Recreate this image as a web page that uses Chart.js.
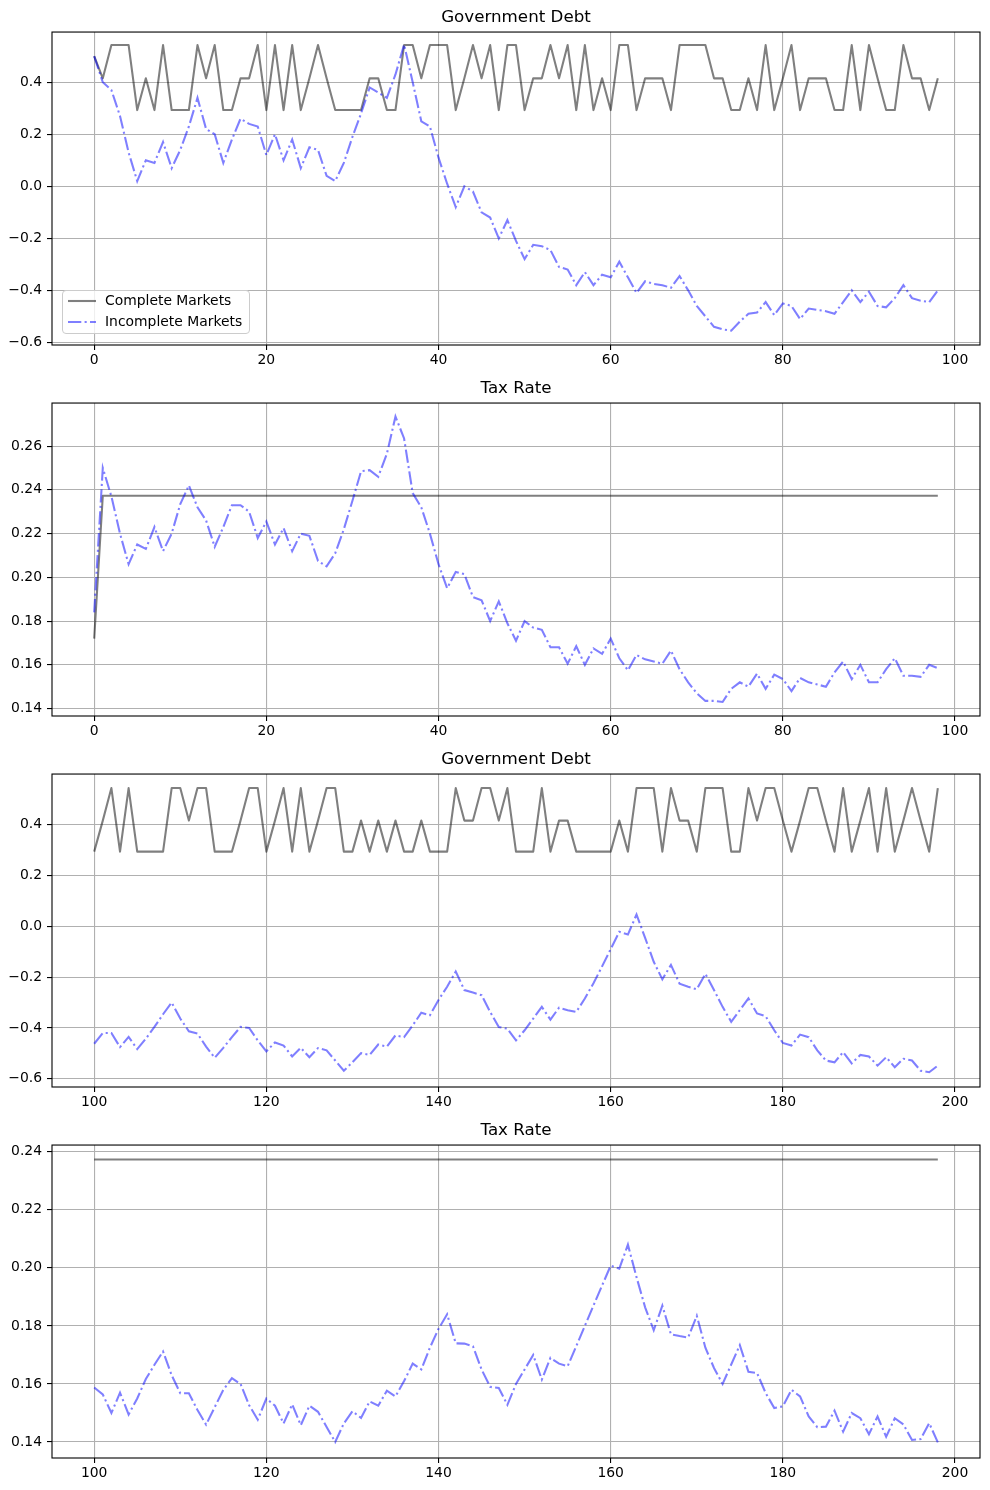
<!DOCTYPE html>
<html>
<head>
<meta charset="utf-8">
<script src="https://cdn.jsdelivr.net/npm/chart.js@4.4.0/dist/chart.umd.min.js"></script>
<style>
  body { margin: 0; background: #fff; font-family: "DejaVu Sans", sans-serif; }
  .panel { position: relative; width: 990px; height: 371px; }
  .legend {
    position: absolute; left: 62px; top: 290px; width: 186px; height: 42px;
    border: 1px solid #cccccc; border-radius: 4px; background: rgba(255,255,255,0.8);
    font-size: 13.9px; color: #000; z-index: 2;
  }
  .legend .row { position: absolute; left: 0; height: 20px; width: 100%; }
  .legend svg { position: absolute; left: 4px; top: 0; }
  .legend span { position: absolute; left: 42px; top: 1px; white-space: nowrap; }
</style>
</head>
<body>
<div class="panel">
  <canvas id="debtA"></canvas>
  <div class="legend">
    <div class="row" style="top:0px">
      <svg width="30" height="20"><line x1="1" y1="10" x2="29" y2="10" stroke="rgba(0,0,0,0.5)" stroke-width="2.1"/></svg>
      <span>Complete Markets</span>
    </div>
    <div class="row" style="top:21px">
      <svg width="30" height="20"><line x1="1" y1="10" x2="29" y2="10" stroke="rgba(0,0,255,0.5)" stroke-width="2.1" stroke-dasharray="13.3 3.3 2.1 3.3"/></svg>
      <span>Incomplete Markets</span>
    </div>
  </div>
</div>
<div class="panel"><canvas id="taxA"></canvas></div>
<div class="panel"><canvas id="debtB"></canvas></div>
<div class="panel"><canvas id="taxB"></canvas></div>

<script>
// periods 0..98
const debtCompleteA = [
  0.5, 0.415, 0.543, 0.543, 0.543, 0.293, 0.415, 0.293, 0.543, 0.293,
  0.293, 0.293, 0.543, 0.415, 0.543, 0.293, 0.293, 0.415, 0.415, 0.543,
  0.293, 0.543, 0.293, 0.543, 0.293, 0.415, 0.543, 0.415, 0.293, 0.293,
  0.293, 0.293, 0.415, 0.415, 0.293, 0.293, 0.543, 0.543, 0.415, 0.543,
  0.543, 0.543, 0.293, 0.415, 0.543, 0.415, 0.543, 0.293, 0.543, 0.543,
  0.293, 0.415, 0.415, 0.543, 0.415, 0.543, 0.293, 0.543, 0.293, 0.415,
  0.293, 0.543, 0.543, 0.293, 0.415, 0.415, 0.415, 0.293, 0.543, 0.543,
  0.543, 0.543, 0.415, 0.415, 0.293, 0.293, 0.415, 0.293, 0.543, 0.293,
  0.415, 0.543, 0.293, 0.415, 0.415, 0.415, 0.293, 0.293, 0.543, 0.293,
  0.543, 0.415, 0.293, 0.293, 0.543, 0.415, 0.415, 0.293, 0.415
];
const debtIncompleteA = [
  0.50, 0.40, 0.37, 0.27, 0.13, 0.02, 0.10, 0.09, 0.17, 0.07,
  0.14, 0.23, 0.34, 0.22, 0.20, 0.09, 0.18, 0.26, 0.24, 0.23,
  0.12, 0.20, 0.10, 0.18, 0.07, 0.15, 0.14, 0.04, 0.02, 0.09,
  0.19, 0.28, 0.38, 0.36, 0.34, 0.43, 0.545, 0.40, 0.25, 0.23,
  0.11, 0.01, -0.08, 0.00, -0.02, -0.10, -0.12, -0.20, -0.13, -0.21,
  -0.28, -0.225, -0.23, -0.245, -0.31, -0.32, -0.38, -0.33, -0.38, -0.34,
  -0.35, -0.29, -0.35, -0.41, -0.365, -0.375, -0.38, -0.39, -0.345, -0.40,
  -0.46, -0.50, -0.54, -0.55, -0.555, -0.52, -0.49, -0.485, -0.445, -0.495,
  -0.45, -0.46, -0.51, -0.47, -0.475, -0.48, -0.49, -0.445, -0.40, -0.445,
  -0.405, -0.46, -0.465, -0.43, -0.38, -0.43, -0.44, -0.445, -0.40
];
const taxCompleteA = [
  0.172, 0.2373, 0.2373, 0.2373, 0.2373, 0.2373, 0.2373, 0.2373, 0.2373, 0.2373,
  0.2373, 0.2373, 0.2373, 0.2373, 0.2373, 0.2373, 0.2373, 0.2373, 0.2373, 0.2373,
  0.2373, 0.2373, 0.2373, 0.2373, 0.2373, 0.2373, 0.2373, 0.2373, 0.2373, 0.2373,
  0.2373, 0.2373, 0.2373, 0.2373, 0.2373, 0.2373, 0.2373, 0.2373, 0.2373, 0.2373,
  0.2373, 0.2373, 0.2373, 0.2373, 0.2373, 0.2373, 0.2373, 0.2373, 0.2373, 0.2373,
  0.2373, 0.2373, 0.2373, 0.2373, 0.2373, 0.2373, 0.2373, 0.2373, 0.2373, 0.2373,
  0.2373, 0.2373, 0.2373, 0.2373, 0.2373, 0.2373, 0.2373, 0.2373, 0.2373, 0.2373,
  0.2373, 0.2373, 0.2373, 0.2373, 0.2373, 0.2373, 0.2373, 0.2373, 0.2373, 0.2373,
  0.2373, 0.2373, 0.2373, 0.2373, 0.2373, 0.2373, 0.2373, 0.2373, 0.2373, 0.2373,
  0.2373, 0.2373, 0.2373, 0.2373, 0.2373, 0.2373, 0.2373, 0.2373, 0.2373
];
const taxIncompleteA = [
  0.184, 0.250, 0.237, 0.220, 0.206, 0.215, 0.213, 0.223, 0.212, 0.220,
  0.2335, 0.242, 0.232, 0.226, 0.214, 0.223, 0.233, 0.233, 0.230, 0.218,
  0.2255, 0.215, 0.2225, 0.212, 0.220, 0.219, 0.2075, 0.205, 0.211, 0.222,
  0.235, 0.2485, 0.249, 0.246, 0.2565, 0.2735, 0.2635, 0.2385, 0.232, 0.220,
  0.206, 0.195, 0.2025, 0.2015, 0.191, 0.1895, 0.180, 0.189, 0.179, 0.171,
  0.180, 0.177, 0.176, 0.168, 0.168, 0.1605, 0.1685, 0.160, 0.1675, 0.165,
  0.172, 0.163, 0.1575, 0.1645, 0.1625, 0.1615, 0.1605, 0.1665, 0.158, 0.152,
  0.147, 0.1435, 0.1435, 0.143, 0.149, 0.152, 0.150, 0.156, 0.149, 0.1555,
  0.1535, 0.148, 0.154, 0.152, 0.151, 0.150, 0.1565, 0.1615, 0.1535, 0.160,
  0.152, 0.152, 0.158, 0.163, 0.155, 0.155, 0.1545, 0.160, 0.1585
];

// periods 100..198
const debtCompleteB = [
  0.293, 0.415, 0.543, 0.293, 0.543, 0.293, 0.293, 0.293, 0.293, 0.543,
  0.543, 0.415, 0.543, 0.543, 0.293, 0.293, 0.293, 0.415, 0.543, 0.543,
  0.293, 0.415, 0.543, 0.293, 0.543, 0.293, 0.415, 0.543, 0.543, 0.293,
  0.293, 0.415, 0.293, 0.415, 0.293, 0.415, 0.293, 0.293, 0.415, 0.293,
  0.293, 0.293, 0.543, 0.415, 0.415, 0.543, 0.543, 0.415, 0.543, 0.293,
  0.293, 0.293, 0.543, 0.293, 0.415, 0.415, 0.293, 0.293, 0.293, 0.293,
  0.293, 0.415, 0.293, 0.543, 0.543, 0.543, 0.293, 0.543, 0.415, 0.415,
  0.293, 0.543, 0.543, 0.543, 0.293, 0.293, 0.543, 0.415, 0.543, 0.543,
  0.415, 0.293, 0.415, 0.543, 0.543, 0.415, 0.293, 0.543, 0.293, 0.415,
  0.543, 0.293, 0.543, 0.293, 0.415, 0.543, 0.415, 0.293, 0.543
];
const debtIncompleteB = [
  -0.462, -0.42, -0.42, -0.475, -0.435, -0.483, -0.442, -0.396, -0.346, -0.30,
  -0.363, -0.413, -0.422, -0.473, -0.517, -0.478, -0.436, -0.396, -0.40, -0.449,
  -0.492, -0.457, -0.469, -0.512, -0.478, -0.515, -0.479, -0.488, -0.528, -0.568,
  -0.535, -0.499, -0.506, -0.465, -0.473, -0.429, -0.436, -0.39, -0.34, -0.35,
  -0.29, -0.238, -0.178, -0.251, -0.261, -0.271, -0.337, -0.396, -0.403, -0.449,
  -0.409, -0.363, -0.317, -0.367, -0.32, -0.33, -0.337, -0.284, -0.224, -0.158,
  -0.09, -0.022, -0.033, 0.046, -0.046, -0.14, -0.209, -0.152, -0.226, -0.238,
  -0.248, -0.187, -0.251, -0.317, -0.376, -0.33, -0.284, -0.343, -0.354, -0.409,
  -0.459, -0.469, -0.426, -0.436, -0.488, -0.528, -0.535, -0.495, -0.539, -0.506,
  -0.512, -0.548, -0.515, -0.554, -0.521, -0.528, -0.568, -0.574, -0.548
];
const taxCompleteB = [
  0.2373, 0.2373, 0.2373, 0.2373, 0.2373, 0.2373, 0.2373, 0.2373, 0.2373, 0.2373,
  0.2373, 0.2373, 0.2373, 0.2373, 0.2373, 0.2373, 0.2373, 0.2373, 0.2373, 0.2373,
  0.2373, 0.2373, 0.2373, 0.2373, 0.2373, 0.2373, 0.2373, 0.2373, 0.2373, 0.2373,
  0.2373, 0.2373, 0.2373, 0.2373, 0.2373, 0.2373, 0.2373, 0.2373, 0.2373, 0.2373,
  0.2373, 0.2373, 0.2373, 0.2373, 0.2373, 0.2373, 0.2373, 0.2373, 0.2373, 0.2373,
  0.2373, 0.2373, 0.2373, 0.2373, 0.2373, 0.2373, 0.2373, 0.2373, 0.2373, 0.2373,
  0.2373, 0.2373, 0.2373, 0.2373, 0.2373, 0.2373, 0.2373, 0.2373, 0.2373, 0.2373,
  0.2373, 0.2373, 0.2373, 0.2373, 0.2373, 0.2373, 0.2373, 0.2373, 0.2373, 0.2373,
  0.2373, 0.2373, 0.2373, 0.2373, 0.2373, 0.2373, 0.2373, 0.2373, 0.2373, 0.2373,
  0.2373, 0.2373, 0.2373, 0.2373, 0.2373, 0.2373, 0.2373, 0.2373, 0.2373
];
const taxIncompleteB = [
  0.1588, 0.1564, 0.150, 0.157, 0.1495, 0.155, 0.1617, 0.1666, 0.1712, 0.163,
  0.1568, 0.1568, 0.151, 0.146, 0.152, 0.158, 0.162, 0.160, 0.1527, 0.1477,
  0.155, 0.1525, 0.1464, 0.153, 0.1458, 0.1525, 0.1504, 0.1452, 0.140, 0.1464,
  0.1506, 0.1483, 0.154, 0.1525, 0.1577, 0.1557, 0.161, 0.167, 0.165, 0.1725,
  0.179, 0.184, 0.174, 0.1739, 0.173, 0.165, 0.159, 0.1586, 0.1528, 0.160,
  0.165, 0.170, 0.1615, 0.169, 0.167, 0.1661, 0.173, 0.180, 0.187, 0.1939,
  0.2008, 0.1997, 0.208, 0.1968, 0.1864, 0.1785, 0.187, 0.1771, 0.1765, 0.176,
  0.1835, 0.1725, 0.1655, 0.160, 0.1667, 0.1734, 0.1642, 0.1638, 0.1569, 0.1517,
  0.1523, 0.158, 0.1557, 0.1488, 0.1451, 0.1453, 0.1508, 0.1436, 0.150, 0.1482,
  0.1427, 0.1488, 0.1418, 0.1482, 0.1461, 0.1407, 0.141, 0.1465, 0.1399
];

const debtTicks = [-0.6, -0.4, -0.2, 0.0, 0.2, 0.4];
const taxTicksA = [0.14, 0.16, 0.18, 0.20, 0.22, 0.24, 0.26];
const taxTicksB = [0.14, 0.16, 0.18, 0.20, 0.22, 0.24];
const periodTicksA = [0, 20, 40, 60, 80, 100];
const periodTicksB = [100, 120, 140, 160, 180, 200];

const font = { family: 'DejaVu Sans', size: 13.9 };

// black box round the axes, like matplotlib spines
const framePlugin = {
  id: 'frame',
  afterDraw(chart) {
    const { ctx, chartArea: a } = chart;
    ctx.save();
    ctx.strokeStyle = '#000';
    ctx.lineWidth = 1.1;
    ctx.strokeRect(a.left, a.top, a.right - a.left, a.bottom - a.top);
    ctx.restore();
  }
};

function fmt(v, dec) {
  const s = Math.abs(v).toFixed(dec);
  return v < -1e-9 ? '\u2212' + s : s;
}

function makePanel(id, title, start, complete, incomplete, yTicks, yMin, yMax, dec, xTicks) {
  const toPts = arr => arr.map((v, i) => ({ x: start + i, y: v }));
  new Chart(document.getElementById(id), {
    type: 'line',
    data: {
      datasets: [
        {
          label: 'Complete Markets',
          data: toPts(complete),
          borderColor: 'rgba(0,0,0,0.5)',
          borderWidth: 2.08,
          borderJoinStyle: 'round',
          pointRadius: 0,
          tension: 0,
          order: 2
        },
        {
          label: 'Incomplete Markets',
          data: toPts(incomplete),
          borderColor: 'rgba(0,0,255,0.5)',
          borderWidth: 2.08,
          borderDash: [13.3, 3.3, 2.1, 3.3],
          borderCapStyle: 'butt',
          pointRadius: 0,
          tension: 0,
          order: 1
        }
      ]
    },
    options: {
      responsive: true,
      maintainAspectRatio: false,
      animation: false,
      layout: { padding: { left: 0, right: 10, top: 0, bottom: 0 } },
      plugins: {
        legend: { display: false },
        tooltip: { enabled: false },
        title: {
          display: true,
          fullSize: false,
          text: title,
          color: '#000',
          font: { family: 'DejaVu Sans', size: 16.7, weight: 'normal', lineHeight: 1.2 },
          padding: { top: 8, bottom: 4 }
        }
      },
      scales: {
        x: {
          type: 'linear',
          min: start - 4.9,
          max: start + 102.9,
          afterBuildTicks: s => { s.ticks = xTicks.map(v => ({ value: v })); },
          afterFit: s => { s.height = 26; },
          ticks: { color: '#000', font, padding: 2, maxRotation: 0, autoSkip: false,
                   callback: v => String(v) },
          grid: { color: '#b0b0b0', lineWidth: 1.1, tickColor: '#000', tickLength: 5 },
          border: { display: false }
        },
        y: {
          type: 'linear',
          min: yMin,
          max: yMax,
          afterBuildTicks: s => { s.ticks = yTicks.map(v => ({ value: v })); },
          afterFit: s => { s.width = 52; },
          ticks: { color: '#000', font, padding: 5, callback: v => fmt(v, dec) },
          grid: { color: '#b0b0b0', lineWidth: 1.1, tickColor: '#000', tickLength: 5 },
          border: { display: false }
        }
      }
    },
    plugins: [framePlugin]
  });
}

makePanel('debtA', 'Government Debt', 0, debtCompleteA, debtIncompleteA, debtTicks, -0.61, 0.593, 1, periodTicksA);
makePanel('taxA', 'Tax Rate', 0, taxCompleteA, taxIncompleteA, taxTicksA, 0.1366, 0.2797, 2, periodTicksA);
makePanel('debtB', 'Government Debt', 100, debtCompleteB, debtIncompleteB, debtTicks, -0.632, 0.598, 1, periodTicksB);
makePanel('taxB', 'Tax Rate', 100, taxCompleteB, taxIncompleteB, taxTicksB, 0.1345, 0.2423, 2, periodTicksB);
</script>
</body>
</html>
